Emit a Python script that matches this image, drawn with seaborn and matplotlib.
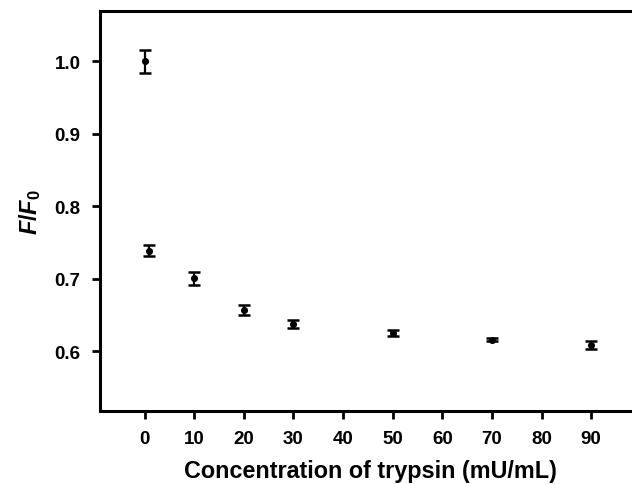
import matplotlib
matplotlib.use("Agg")
import matplotlib.pyplot as plt
import numpy as np
import pandas as pd
import seaborn as sns

# Data
concentration = [0, 1, 10, 20, 30, 50, 70, 90]
ratio = [1.000, 0.739, 0.701, 0.657, 0.638, 0.625, 0.616, 0.609]
ratio_err = [0.016, 0.008, 0.009, 0.007, 0.005, 0.004, 0.002, 0.005]
x_ticks = [0, 10, 20, 30, 40, 50, 60, 70, 80, 90]
y_ticks = [0.6, 0.7, 0.8, 0.9, 1.0]

sns.set_style("ticks")
plt.rcParams.update({
    "font.family": ["Liberation Sans", "DejaVu Sans"],
    "font.weight": "bold",
    "text.color": "black",
    "axes.labelcolor": "black",
    "axes.edgecolor": "black",
    "xtick.color": "black",
    "ytick.color": "black",
    "mathtext.fontset": "custom",
    "mathtext.it": "Liberation Sans:italic:bold",
    "mathtext.rm": "Liberation Sans:bold",
})

df = pd.DataFrame({"conc": concentration, "ratio": ratio, "err": ratio_err})

fig = plt.figure(figsize=(6.32, 4.85), dpi=100)
# plot area runs slightly past the right edge, as in the reference
ax = fig.add_axes([0.158, 0.1505, 0.856, 0.8245])

ax.errorbar(df["conc"], df["ratio"], yerr=df["err"], fmt="none",
            ecolor="black", elinewidth=1.6, capsize=4, capthick=1.8, zorder=2)
sns.scatterplot(data=df, x="conc", y="ratio", ax=ax, color="black",
                s=26, edgecolor="black", linewidth=0, zorder=3)

ax.set_xlim(-9, 100)
ax.set_ylim(0.518, 1.069)
ax.set_xticks(x_ticks)
ax.set_yticks(y_ticks)
ax.set_yticklabels([f"{v:.1f}" for v in y_ticks])

for side in ["left", "bottom", "top"]:
    ax.spines[side].set_linewidth(2.2)
ax.spines["right"].set_visible(False)
ax.tick_params(axis="both", direction="out", length=6, width=2,
               labelsize=13.5, pad=8)

ax.set_xlabel("Concentration of trypsin (mU/mL)", fontsize=16.8,
              fontweight="bold", labelpad=8)
ax.set_ylabel(r"$\mathit{F/F}_{\mathrm{0}}$", fontsize=17, labelpad=8)

fig.savefig("out.png", dpi=100)
